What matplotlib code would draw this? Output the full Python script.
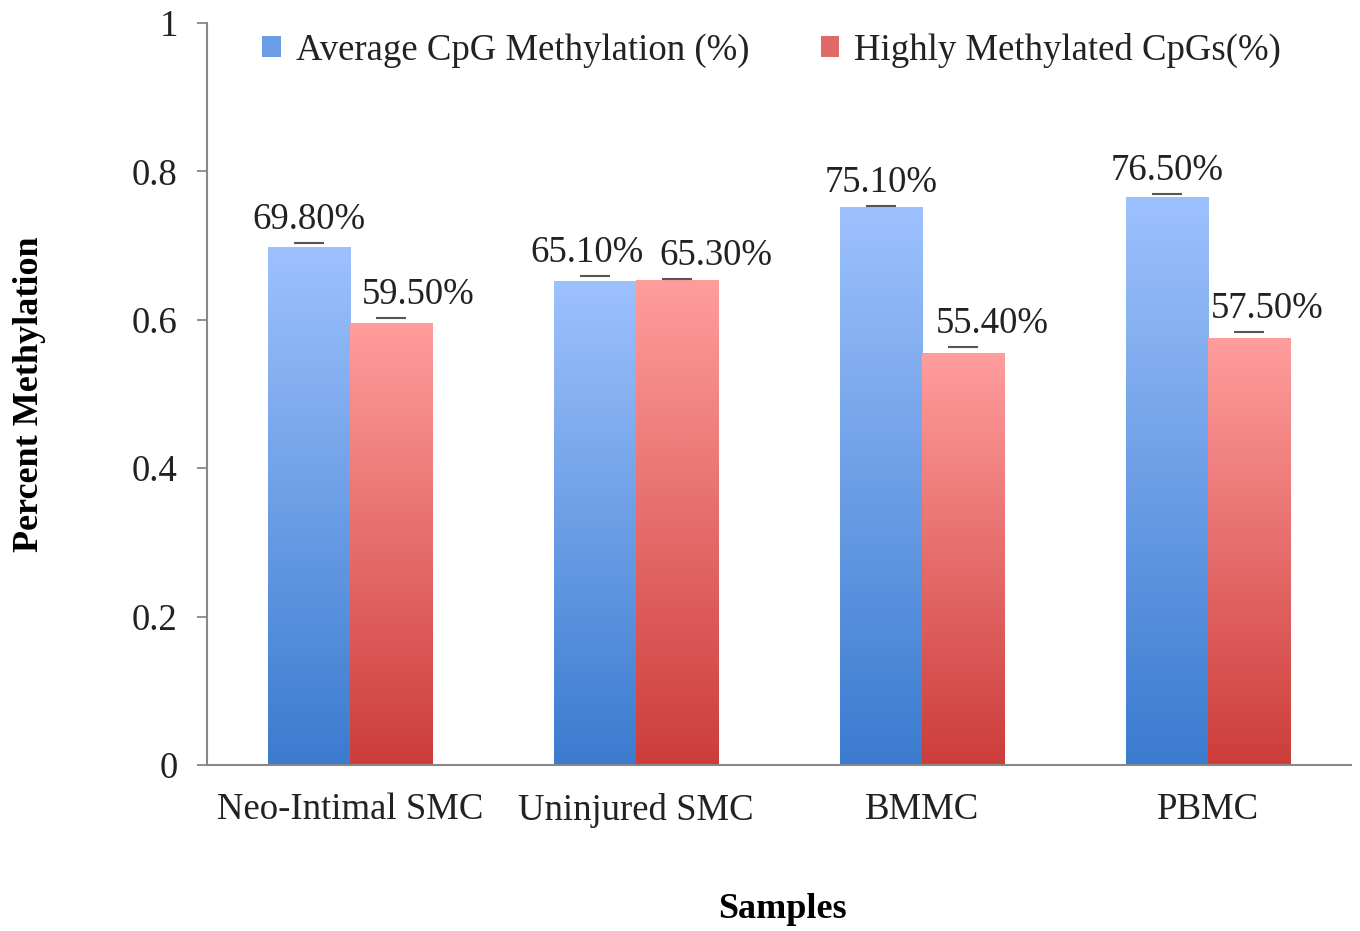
import numpy as np
import matplotlib
matplotlib.use("Agg")
import matplotlib.pyplot as plt
from matplotlib.patches import Patch
from matplotlib.colors import LinearSegmentedColormap

categories = ["Neo-Intimal SMC", "Uninjured SMC", "BMMC", "PBMC"]
series_names = ["Average CpG Methylation (%)", "Highly Methylated CpGs(%)"]
avg_cpg = [0.698, 0.651, 0.751, 0.765]
high_cpg = [0.595, 0.653, 0.554, 0.575]
avg_err = [0.005, 0.008, 0.003, 0.005]
high_err = [0.007, 0.002, 0.010, 0.009]
avg_labels = ["69.80%", "65.10%", "75.10%", "76.50%"]
high_labels = ["59.50%", "65.30%", "55.40%", "57.50%"]
y_ticks = [0, 0.2, 0.4, 0.6, 0.8, 1.0]
y_ticklabels = ["0", "0.2", "0.4", "0.6", "0.8", "1"]

# style (positions / colours)
avg_dx_px = [0, -8, 0, 0]
high_dx_px = [27, 39, 29, 18]
blue_top, blue_bot = "#9dc1fd", "#3b7bcf"
red_top, red_bot = "#ff9d9d", "#cc3d3a"

plt.rcParams['font.family'] = ['Liberation Serif', 'DejaVu Serif']
DPI = 100
fig = plt.figure(figsize=(13.6, 9.31), dpi=DPI)
ax = fig.add_axes([207/1360, 1-765/931, 1144/1360, (765-23)/931])

x = np.arange(len(categories))
w = 0.287
grad = np.linspace(1, 0, 256).reshape(-1, 1)

def draw_series(xs, vals, errs, ctop, cbot):
    cmap = LinearSegmentedColormap.from_list("g", [cbot, ctop])
    bars = ax.bar(xs, vals, width=w, align='edge', color=cbot, linewidth=0, zorder=2)
    for b in bars:
        x0 = b.get_x(); h = b.get_height()
        ax.imshow(grad, extent=[x0, x0 + w, 0, h], aspect='auto', cmap=cmap,
                  vmin=0, vmax=1, zorder=2.5, interpolation='bicubic')
    ax.errorbar(np.asarray(xs) + w/2, np.asarray(vals) + np.asarray(errs), yerr=None,
                xerr=None, fmt='_', color='#555555', markersize=22, markeredgewidth=1.5,
                zorder=3)
    return bars

draw_series(x - w, avg_cpg, avg_err, blue_top, blue_bot)
draw_series(x, high_cpg, high_err, red_top, red_bot)

fs = 26.5
for i in range(len(categories)):
    ax.annotate(avg_labels[i], (x[i] - w/2, avg_cpg[i] + avg_err[i]),
                xytext=(avg_dx_px[i]*72/DPI, 14*72/DPI), textcoords='offset points',
                ha='center', va='baseline', fontsize=fs, color='#222222', zorder=4)
    ax.annotate(high_labels[i], (x[i] + w/2, high_cpg[i] + high_err[i]),
                xytext=(high_dx_px[i]*72/DPI, 14*72/DPI), textcoords='offset points',
                ha='center', va='baseline', fontsize=fs, color='#222222', zorder=4)

ax.set_xlim(-0.5, 3.5)
ax.set_ylim(0, 1)
for s in ['top', 'right']:
    ax.spines[s].set_visible(False)
for s in ['left', 'bottom']:
    ax.spines[s].set_color('#888888')
    ax.spines[s].set_linewidth(1.5)
ax.set_xticks(x)
ax.set_xticklabels(categories, fontsize=fs, color='#222222')
ax.set_yticks(y_ticks)
ax.set_yticklabels(y_ticklabels, fontsize=fs, color='#222222')
ax.tick_params(axis='x', length=0, pad=20)
ax.tick_params(axis='y', length=7, width=1.3, color='#888888', pad=14)

ax.set_ylabel("Percent Methylation", fontsize=26, fontweight='bold')
ax.yaxis.set_label_coords(-0.141, 0.50)
fig.text(782/1360, 1-910/931, "Samples", fontsize=26, fontweight='bold', ha='center', va='center')

handles = [Patch(facecolor="#6b9ce6", edgecolor='none'), Patch(facecolor="#e06a68", edgecolor='none')]
leg = ax.legend(handles, series_names, loc='upper left', bbox_to_anchor=(0.0195, 1.032), ncol=2,
                frameon=False, fontsize=fs, handlelength=0.5, handleheight=0.5,
                handletextpad=0.4, columnspacing=1.95)
for t in leg.get_texts():
    t.set_color('#222222')

fig.savefig("out.png", dpi=DPI)
